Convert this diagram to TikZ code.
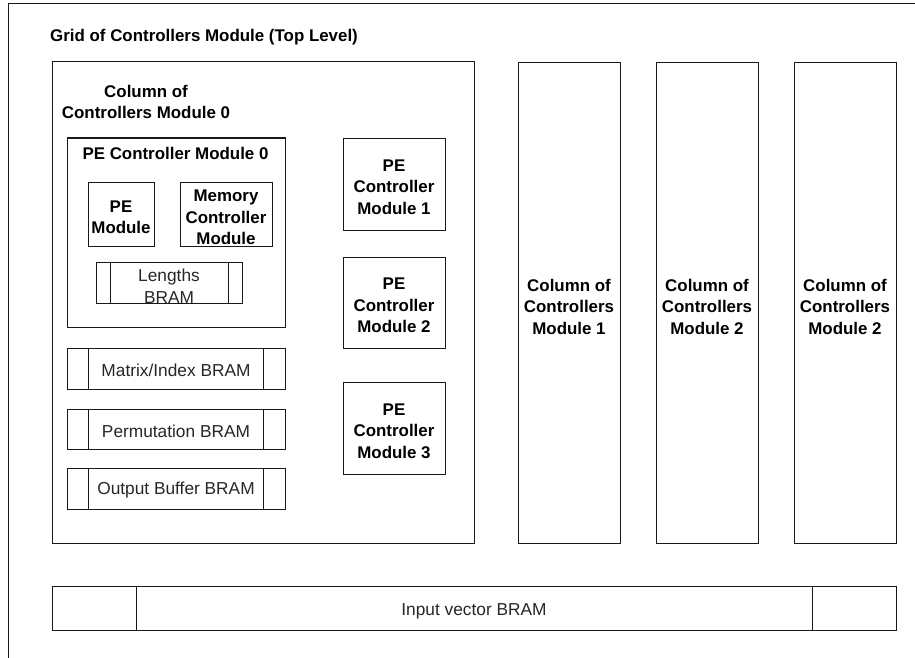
\documentclass[tikz,border=0pt]{standalone}
\usepackage{fontspec}
\setmainfont{Liberation Sans}
\begin{document}
\begin{tikzpicture}[x=1pt,y=-1pt,
  txt/.style={inner sep=0pt,align=center,font=\fontsize{16.9}{21.5}\selectfont\bfseries},
  plain/.style={inner sep=0pt,align=center,font=\fontsize{17.3}{21.5}\selectfont,text=black!85},
  box/.style={draw=black!90,line width=1pt,inner sep=0pt},
  divider/.style={draw=black!90,line width=1pt}]
  \useasboundingbox (0,0) rectangle (915,658);

  % frame of the top-level module (runs off the page to the right and bottom)
  \coordinate (fbl) at (8,658);
  \coordinate (ftl) at (8,4);
  \coordinate (ftr) at (915,4);
  \draw[divider] (fbl) -- (ftl) -- (ftr);
  \node[txt,anchor=base west] (title) at (50,41.5) {Grid of Controllers Module (Top Level)};

  % column 0, expanded
  \node[box,minimum width=422pt,minimum height=481pt] (col0) at (263,302.5) {};
  \node[txt] (col0lab) at (146,102) {Column of\\Controllers Module 0};

  \node[box,minimum width=218pt,minimum height=189pt] (pe0) at (176,232.5) {};
  \node[txt] (pe0lab) at (175.5,153) {PE Controller Module 0};
  \node[box,minimum width=66pt,minimum height=64pt] (pem) at (121,214) {};
  \node[box,minimum width=92pt,minimum height=64pt] (mem) at (226,214) {};
  \node[box,minimum width=146pt,minimum height=41pt] (len) at (169,282.5) {};

  \node[box,minimum width=102pt,minimum height=92pt] (pe1) at (394,184) {};
  \node[box,minimum width=102pt,minimum height=91pt] (pe2) at (394,302.5) {};
  \node[box,minimum width=102pt,minimum height=92pt] (pe3) at (394,428) {};

  \node[box,minimum width=218pt,minimum height=41pt] (mat) at (176,368.5) {};
  \node[box,minimum width=218pt,minimum height=40pt] (perm) at (176,429) {};
  \node[box,minimum width=218pt,minimum height=41pt] (outb) at (176,488.5) {};

  % remaining columns
  \node[box,minimum width=102pt,minimum height=480pt] (col1) at (569,303) {};
  \node[box,minimum width=102pt,minimum height=480pt] (col2) at (707,303) {};
  \node[box,minimum width=102pt,minimum height=480pt] (col3) at (845,303) {};

  % shared input vector memory
  \node[box,minimum width=844pt,minimum height=44pt] (inp) at (474,608) {};

  % side partitions of the BRAM blocks
  \foreach \n/\d in {len/14.5,mat/22,perm/22,outb/22,inp/84.5}{
    \draw[divider] ([xshift=\d pt]\n.north west) -- ([xshift=\d pt]\n.south west);
    \draw[divider] ([xshift=-\d pt]\n.north east) -- ([xshift=-\d pt]\n.south east);
  }

  % block captions, set slightly below the box centres
  \node[txt]   (pemtext)  at ([yshift=-3.5pt]pem.center)  {PE\\Module};
  \node[txt]   (memtext)  at ([yshift=-3.5pt]mem.center)  {Memory\\Controller\\Module};
  \node[plain] (lentext)  at ([yshift=-3.5pt]len.center)  {Lengths\\BRAM};
  \node[txt]   (pe1text)  at ([yshift=-3pt]pe1.center)    {PE\\Controller\\Module 1};
  \node[txt]   (pe2text)  at ([yshift=-3pt]pe2.center)    {PE\\Controller\\Module 2};
  \node[txt]   (pe3text)  at ([yshift=-3pt]pe3.center)    {PE\\Controller\\Module 3};
  \node[plain] (mattext)  at ([yshift=-2pt]mat.center)    {Matrix/Index BRAM};
  \node[plain] (permtext) at ([yshift=-2pt]perm.center)   {Permutation BRAM};
  \node[plain] (outbtext) at ([yshift=-2pt]outb.center)   {Output Buffer BRAM};
  \node[txt]   (col1text) at ([yshift=-3.5pt]col1.center) {Column of\\Controllers\\Module 1};
  \node[txt]   (col2text) at ([yshift=-3.5pt]col2.center) {Column of\\Controllers\\Module 2};
  \node[txt]   (col3text) at ([yshift=-3.5pt]col3.center) {Column of\\Controllers\\Module 2};
  \node[plain] (inptext)  at ([yshift=-3pt]inp.center)    {Input vector BRAM};
\end{tikzpicture}
\end{document}
